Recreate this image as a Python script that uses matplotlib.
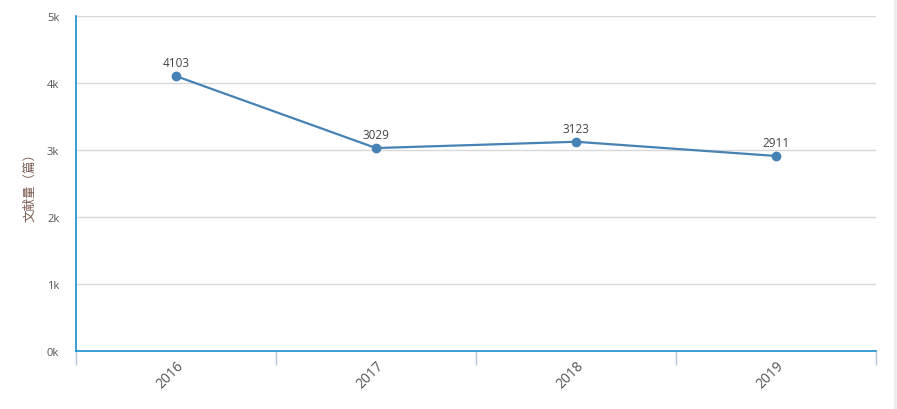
import matplotlib.pyplot as plt
from matplotlib.ticker import FuncFormatter, FixedLocator

plt.rcParams['font.family'] = ['Open Sans', 'Noto Sans CJK SC', 'DejaVu Sans']

years = ['2016', '2017', '2018', '2019']
counts = [4103, 3029, 3123, 2911]

fig = plt.figure(figsize=(8.97, 4.10), dpi=100)
ax = fig.add_axes([76 / 897, 58 / 410, 800 / 897, 335 / 410])

x = list(range(len(years)))
ax.plot(x, counts, color='#4682b4', lw=1.6, marker='o', ms=6, zorder=3)
for xi, v in zip(x, counts):
    ax.annotate(str(v), (xi, v), xytext=(0, 5), textcoords='offset points',
                ha='center', va='bottom', fontsize=8.5, color='#444444')

ax.set_xlim(-0.5, len(years) - 0.5)
ax.set_ylim(0, 5000)
ax.set_yticks(range(0, 5001, 1000))
ax.yaxis.set_major_formatter(FuncFormatter(lambda v, p: '%dk' % (v / 1000)))
ax.grid(axis='y', color='#d8d8d8', lw=1)
ax.set_axisbelow(True)

ax.set_xticks(x)
ax.set_xticklabels(years, rotation=45, ha='right', rotation_mode='anchor',
                   fontsize=10, color='#555555')
ax.xaxis.set_minor_locator(FixedLocator([i - 0.5 for i in range(len(years) + 1)]))
ax.tick_params(axis='x', which='major', length=0, pad=5)
ax.tick_params(axis='x', which='minor', length=10, color='#b8c8dc', width=1)
ax.tick_params(axis='y', length=0, labelsize=8, labelcolor='#555555', pad=12)

for s in ['top', 'right']:
    ax.spines[s].set_visible(False)
ax.spines['left'].set_color('#1a8fd0')
ax.spines['bottom'].set_color('#1a8fd0')
ax.spines['left'].set_linewidth(1.2)
ax.spines['bottom'].set_linewidth(1.2)

ax.set_ylabel('文献量（篇）', fontsize=9, color='#7a5a50', labelpad=8)

fig.add_artist(plt.Line2D([895 / 897, 895 / 897], [0, 1], color='#ececec', lw=2))

fig.savefig('out.png', dpi=100)
